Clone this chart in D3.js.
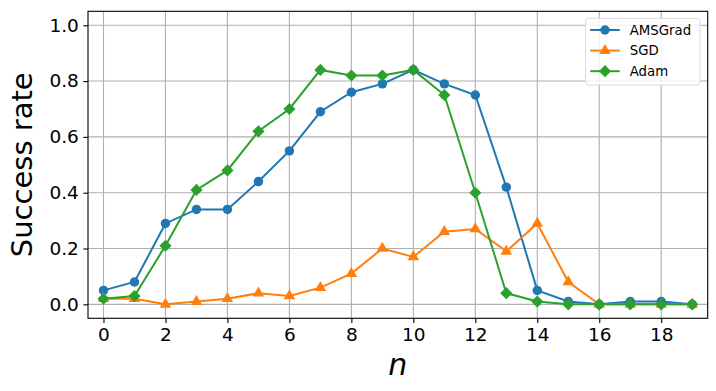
<!DOCTYPE html>
<html>
<head>
<meta charset="utf-8">
<script src="https://cdn.jsdelivr.net/npm/d3@7"></script>
<style>
  body { margin: 0; background: #fff; }
  svg { display: block; font-family: "DejaVu Sans", sans-serif; }
</style>
</head>
<body>
<div id="chart"></div>
<script>
'use strict';

// data
var n = d3.range(0, 20);
var amsgrad = [0.05, 0.08, 0.29, 0.34, 0.34, 0.44, 0.55, 0.69, 0.76, 0.79, 0.84, 0.79, 0.75, 0.42, 0.05, 0.01, 0.00, 0.01, 0.01, 0.00];
var sgd = [0.02, 0.02, 0.00, 0.01, 0.02, 0.04, 0.03, 0.06, 0.11, 0.20, 0.17, 0.26, 0.27, 0.19, 0.29, 0.08, 0.00, 0.00, 0.00, 0.00];
var adam = [0.02, 0.03, 0.21, 0.41, 0.48, 0.62, 0.70, 0.84, 0.82, 0.82, 0.84, 0.75, 0.40, 0.04, 0.01, 0.00, 0.00, 0.00, 0.00, 0.00];
var xTicks = [0, 2, 4, 6, 8, 10, 12, 14, 16, 18];
var yTicks = [0.0, 0.2, 0.4, 0.6, 0.8, 1.0];

var series = [
    {name: "AMSGrad", values: amsgrad, color: "#1f77b4", marker: "circle"},
    {name: "SGD", values: sgd, color: "#ff7f0e", marker: "triangle"},
    {name: "Adam", values: adam, color: "#2ca02c", marker: "diamond"}
];

var width = 716, height = 391;
var margin = {top: 11.3, right: 8.3, bottom: 72.7, left: 88};
var w = width - margin.left - margin.right;
var h = height - margin.top - margin.bottom;

var svg = d3.select("#chart").append("svg")
    .attr("width", width)
    .attr("height", height);

var g = svg.append("g")
    .attr("transform", "translate(" + margin.left + "," + margin.top + ")");

var x = d3.scaleLinear().domain([-0.5, 19.5]).range([0, w]);
var y = d3.scaleLinear().domain([-0.05, 1.05]).range([h, 0]);

// grid
g.append("g").selectAll("line").data(xTicks).enter().append("line")
    .attr("x1", function(d) { return x(d); })
    .attr("x2", function(d) { return x(d); })
    .attr("y1", 0).attr("y2", h)
    .attr("stroke", "#b0b0b0").attr("stroke-width", 1.1);
g.append("g").selectAll("line").data(yTicks).enter().append("line")
    .attr("y1", function(d) { return y(d); })
    .attr("y2", function(d) { return y(d); })
    .attr("x1", 0).attr("x2", w)
    .attr("stroke", "#b0b0b0").attr("stroke-width", 1.1);

// axes
var xAxis = g.append("g")
    .attr("transform", "translate(0," + h + ")")
    .call(d3.axisBottom(x).tickValues(xTicks).tickSize(4.7).tickPadding(4.5).tickFormat(d3.format("d")));
var yAxis = g.append("g")
    .call(d3.axisLeft(y).tickValues(yTicks).tickSize(4.7).tickPadding(4.5).tickFormat(d3.format(".1f")));
[xAxis, yAxis].forEach(function(a) {
    a.select(".domain").remove();
    a.selectAll("text").style("font-size", "18.5px").style("font-family", "DejaVu Sans").attr("fill", "#000");
    a.selectAll("line").attr("stroke", "#000").attr("stroke-width", 1.1);
});

// lines and markers
var line = d3.line()
    .x(function(d, i) { return x(n[i]); })
    .y(function(d) { return y(d); });

var symbolFor = {
    circle: d3.symbol().type(d3.symbolCircle).size(70),
    triangle: d3.symbol().type(d3.symbolTriangle).size(58),
    diamond: d3.symbol().type(d3.symbolSquare).size(74)
};
var rot = function(m) { return m === "diamond" ? " rotate(45)" : ""; };

series.forEach(function(s) {
    var sg = g.append("g");
    sg.append("path")
        .datum(s.values)
        .attr("d", line)
        .attr("fill", "none")
        .attr("stroke", s.color)
        .attr("stroke-width", 2);
    sg.selectAll("path.m").data(s.values).enter().append("path")
        .attr("class", "m")
        .attr("d", symbolFor[s.marker])
        .attr("transform", function(d, i) {
            return "translate(" + x(n[i]) + "," + y(d) + ")" + rot(s.marker);
        })
        .attr("fill", s.color);
});

// frame
g.append("rect")
    .attr("width", w).attr("height", h)
    .attr("fill", "none").attr("stroke", "#000").attr("stroke-width", 1.1);

// legend
var lg = g.append("g").attr("transform", "translate(" + (585.7 - margin.left) + "," + (18.3 - margin.top) + ")");
lg.append("rect")
    .attr("width", 114.3).attr("height", 66.7)
    .attr("rx", 3)
    .attr("fill", "#fff").attr("fill-opacity", 0.8)
    .attr("stroke", "#d9d9d9").attr("stroke-width", 1);
series.forEach(function(s, i) {
    var yy = 11.7 + i * 20.6;
    lg.append("line")
        .attr("x1", 4.5).attr("x2", 34)
        .attr("y1", yy).attr("y2", yy)
        .attr("stroke", s.color).attr("stroke-width", 2);
    lg.append("path")
        .attr("d", symbolFor[s.marker])
        .attr("transform", "translate(19.3," + yy + ")" + rot(s.marker))
        .attr("fill", s.color);
    lg.append("text")
        .attr("x", 44).attr("y", yy)
        .attr("dy", "0.35em")
        .style("font-size", "13.3px")
        .text(s.name);
});

// axis labels
svg.append("text")
    .attr("transform", "translate(32," + (margin.top + h / 2) + ") rotate(-90)")
    .attr("text-anchor", "middle")
    .style("font-size", "29px")
    .text("Success rate");

svg.append("text")
    .attr("x", margin.left + w / 2)
    .attr("y", 375)
    .attr("text-anchor", "middle")
    .style("font-size", "30px")
    .style("font-style", "italic")
    .text("n");
</script>
</body>
</html>
